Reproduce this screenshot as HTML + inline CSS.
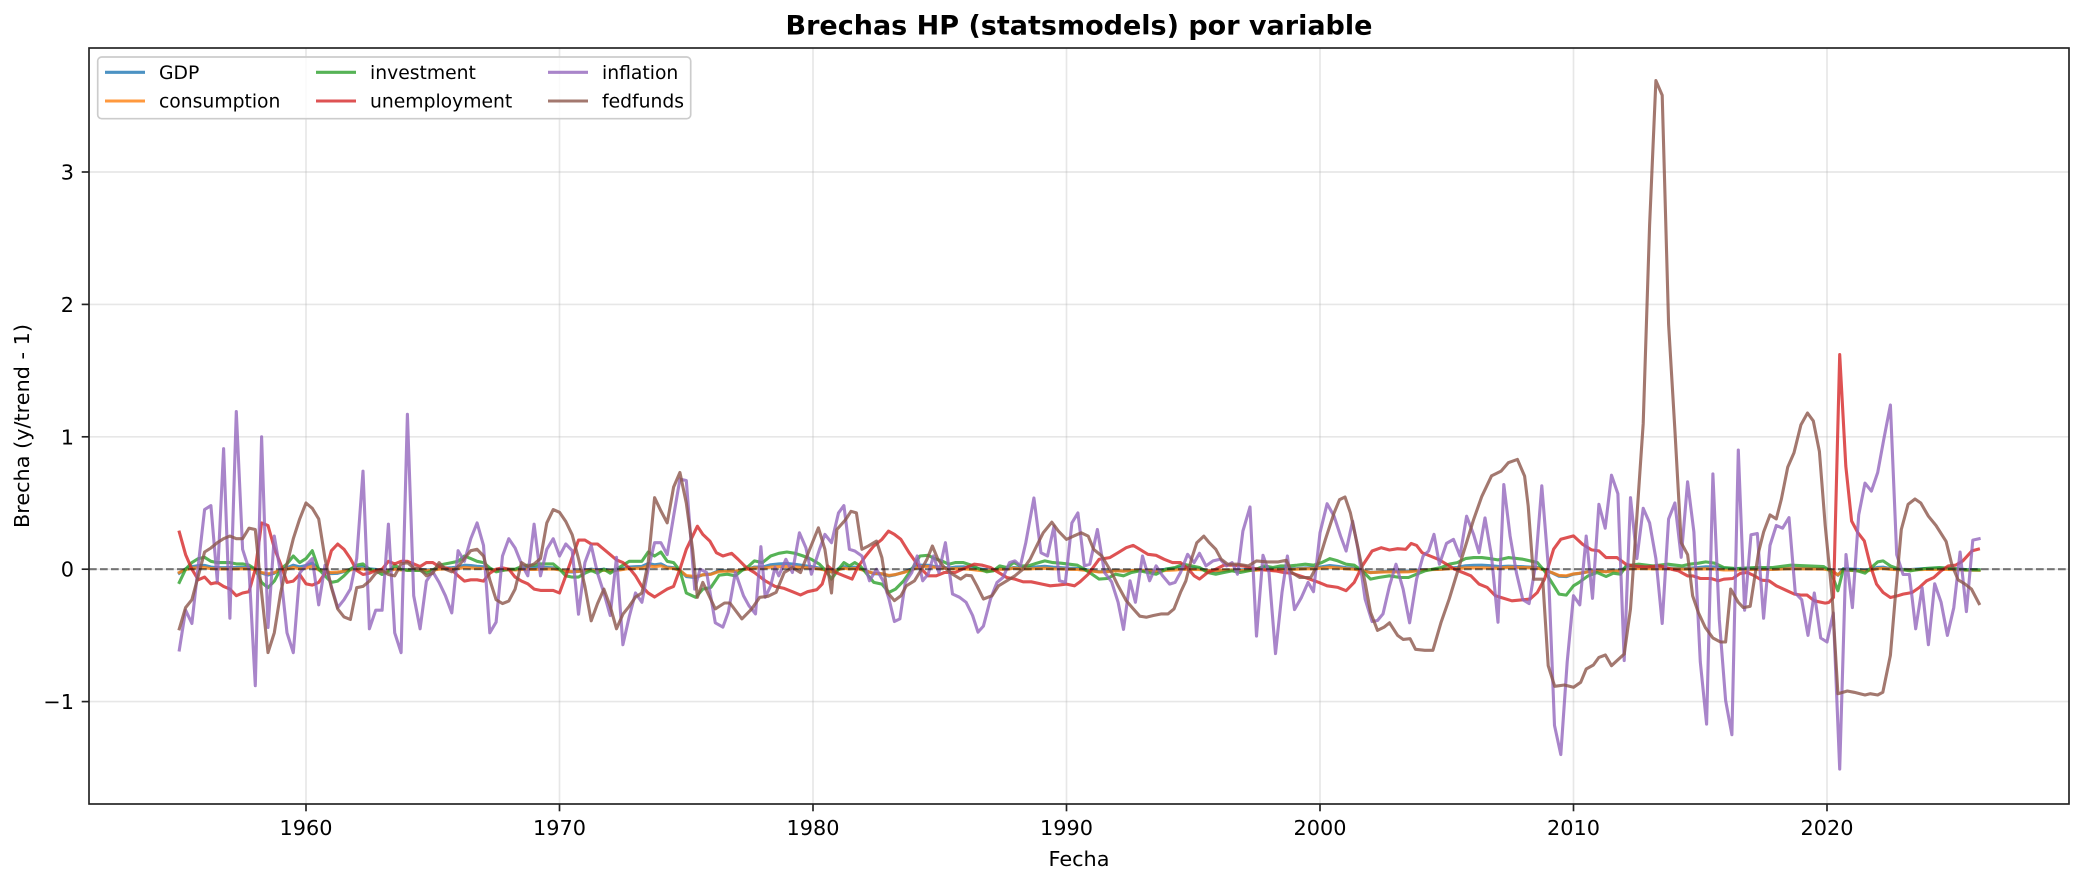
<!DOCTYPE html>
<html><head><meta charset="utf-8">
<style>
html,body{margin:0;padding:0;background:#fff;}
svg{display:block;}
text{font-family:"DejaVu Sans","Liberation Sans",sans-serif;fill:#000;}
</style></head>
<body>
<svg id="c" width="2084" height="882" viewBox="0 0 2084 882" xmlns="http://www.w3.org/2000/svg">
<defs><clipPath id="clip"><rect x="89" y="48" width="1980" height="756"/></clipPath></defs>
<rect x="0" y="0" width="2084" height="882" fill="#fff"/>
<g id="grid" stroke="#b0b0b0" stroke-opacity="0.3" stroke-width="1.67"></g>
<g id="series" clip-path="url(#clip)" fill="none" stroke-width="3.1" stroke-linejoin="round" stroke-linecap="square" stroke-opacity="0.8"></g>
<line x1="89" y1="569.2" x2="2069" y2="569.2" stroke="#000" stroke-opacity="0.5" stroke-width="2.08" stroke-dasharray="7.7 3.3"/>
<rect x="89" y="48" width="1980" height="756" fill="none" stroke="#222" stroke-width="1.67"/>
<g id="ticks" stroke="#222" stroke-width="1.67"></g>
<g id="ticklabels" font-size="20.8"></g>
<text x="1079" y="34.5" text-anchor="middle" font-size="27" font-weight="bold">Brechas HP (statsmodels) por variable</text>
<text x="1079" y="866" text-anchor="middle" font-size="20.8">Fecha</text>
<text transform="translate(29,426) rotate(-90)" text-anchor="middle" font-size="20.8">Brecha (y/trend - 1)</text>
<g id="legend">
<rect x="97.7" y="57" width="593" height="61.7" rx="4" ry="4" fill="#fff" fill-opacity="0.8" stroke="#cccccc" stroke-width="1.7"/>
<g stroke-width="3.1" stroke-opacity="0.8">
<line x1="105" y1="72.3" x2="145" y2="72.3" stroke="#1f77b4"/>
<line x1="105" y1="101" x2="145" y2="101" stroke="#ff7f0e"/>
<line x1="316" y1="72.3" x2="356" y2="72.3" stroke="#2ca02c"/>
<line x1="316" y1="101" x2="356" y2="101" stroke="#d62728"/>
<line x1="548" y1="72.3" x2="588" y2="72.3" stroke="#9467bd"/>
<line x1="548" y1="101" x2="588" y2="101" stroke="#8c564b"/>
</g>
<g font-size="18.75">
<text x="159" y="78.8">GDP</text>
<text x="159" y="107.5">consumption</text>
<text x="370" y="78.8">investment</text>
<text x="370" y="107.5">unemployment</text>
<text x="602" y="78.8">inflation</text>
<text x="602" y="107.5">fedfunds</text>
</g>
</g>
</svg>
<script>
(function(){
var NS="http://www.w3.org/2000/svg";
function X(y){return 306+(y-1960)*25.35;}
function Y(v){return 569.2-v*132.4;}
function z10(p){return [2010+(p[0]-200)/70,(570-p[1])/398];}
function z11(p){return [1960+(p[0]-430)/69.5,(570-p[1])/398];}
function z12(p){return [1980+(p[0]-228)/46.7,(510-p[1])/400];}
function q(arr,start){return arr.map(function(v,i){return [start+i*0.25,v];});}
function el(tag,attrs,parent,txt){var e=document.createElementNS(NS,tag);for(var k in attrs)e.setAttribute(k,attrs[k]);if(txt!==undefined)e.textContent=txt;parent.appendChild(e);return e;}

// grid & ticks
var grid=document.getElementById('grid'),ticks=document.getElementById('ticks'),tl=document.getElementById('ticklabels');
for(var yr=1960;yr<=2020;yr+=10){var x=X(yr);
 el('line',{x1:x,y1:48,x2:x,y2:804},grid);
 el('line',{x1:x,y1:804,x2:x,y2:811.3},ticks);
 el('text',{x:x,y:835,'text-anchor':'middle'},tl,String(yr));}
for(var v=-1;v<=3;v++){var y=Y(v);
 el('line',{x1:89,y1:y,x2:2069,y2:y},grid);
 el('line',{x1:81.7,y1:y,x2:89,y2:y},ticks);
 el('text',{x:74,y:y+7.5,'text-anchor':'end'},tl,(v<0?'\u2212':'')+Math.abs(v));}

// ---------- data ----------
var infl55=[-0.61,-0.31,-0.41,0.03,0.45,0.48,-0.09,0.91,-0.37,1.19,0.15,0.0,-0.88,1.0,-0.44,0.25,-0.03,-0.48,-0.63,-0.03,0.03,0.08,-0.27,0.03,-0.13,-0.29,-0.23,-0.15,0.08,0.74,-0.45,-0.31,-0.31,0.34,-0.48,-0.63,1.17,-0.2,-0.45,-0.09,-0.02,-0.1,-0.2,-0.33,0.14,0.06,0.23,0.35,0.18,-0.48,-0.40,0.1,0.23,0.16,0.04,-0.05,0.34,-0.05,0.15,0.23,0.1,0.19,0.14,-0.34,0.05,0.18,-0.03,-0.18,-0.35,0.09,-0.57,-0.36,-0.18,-0.25,0.0,0.2,0.2,0.11,0.4,0.68,0.67];
var fed55=[-0.45,-0.29,-0.23,-0.05,0.13,0.16,0.2,0.23,0.25,0.23,0.23,0.31,0.30,-0.18,-0.63,-0.48,-0.18,0.04,0.23,0.38,0.50,0.46,0.38,0.08,-0.14,-0.3,-0.36,-0.38,-0.14,-0.13,-0.09,-0.03,-0.01,-0.04,-0.05,0.04,0.05,0.01,0.0,-0.05,-0.03,0.05,0.0,-0.02,0.02,0.08,0.14,0.15,0.1,-0.08,-0.23,-0.26,-0.24,-0.15,0.05,0.02,0.04,0.08,0.35,0.45,0.43,0.36,0.26,0.08,-0.13,-0.39,-0.26,-0.15,-0.28,-0.45,-0.34,-0.28,-0.21,-0.18,0.05,0.54,0.44,0.35,0.62,0.73,0.5];
var unemp55=[0.28,0.11,0.0,-0.08,-0.06,-0.11,-0.1,-0.13,-0.15,-0.2,-0.18,-0.17,0.0,0.35,0.33,0.16,0.04,-0.1,-0.09,-0.04,-0.11,-0.12,-0.1,-0.03,0.14,0.19,0.15,0.08,-0.01,-0.04,-0.03,-0.01,0.0,0.06,0.04,0.06,0.06,0.04,0.02,0.05,0.05,0.02,0.01,-0.005,-0.05,-0.09,-0.08,-0.08,-0.09,-0.03,0.0,0.01,0.0,-0.06,-0.09,-0.11,-0.15,-0.16,-0.16,-0.16,-0.18,-0.05,0.09,0.22,0.22,0.19,0.19,0.15,0.11,0.07,0.05,0.01,-0.05,-0.13,-0.18,-0.21,-0.18,-0.15,-0.13,0.0,0.15];
var inv55=[-0.1,0.0,0.05,0.08,0.09,0.06,0.05,0.05,0.05,0.04,0.04,0.03,0.0,-0.1,-0.14,-0.09,0.0,0.04,0.1,0.05,0.08,0.14,0.0,-0.05,-0.1,-0.09,-0.05,0.0,0.03,0.04,0.0,-0.01,-0.04,-0.02,0.03,0.0,-0.01,-0.01,-0.01,-0.03,-0.01,0.03,0.04,0.05,0.06,0.1,0.08,0.06,0.05,0.01,-0.02,-0.01,0.0,0.0,0.02,0.03,0.03,0.04,0.04,0.04,0.0,-0.05,-0.06,-0.06,-0.03,-0.01,-0.03,0.0,-0.03,0.0,0.03,0.06,0.06,0.06,0.13,0.1,0.13,0.06,0.05,-0.01,-0.18];

var inflZ12=[[10,570],[20,510],[32,520],[48,672],[62,685],[72,640],[85,520],[100,590],[110,620],[122,645],[132,442],[140,595],[150,560],[158,505],[165,530],[178,480],[190,520],[203,400],[215,445],[225,525],[240,450],[250,405],[262,430],[275,340],[285,318],[295,450],[305,455],[318,470],[332,545],[345,510],[358,548],[368,600],[378,668],[388,660],[398,550],[410,520],[420,470],[430,545],[440,525],[450,470],[460,520],[472,430],[485,585],[498,595],[510,610],[522,650],[532,700],[542,682],[555,600],[567,550],[578,535],[590,490],[600,485],[610,500],[620,430],[635,295],[648,460],[660,470],[672,380],[682,545],[693,550],[705,370],[716,340],[728,500],[738,495],[752,390],[765,520],[778,548],[790,610],[800,692],[812,545],[822,610],[835,470],[848,545],[860,500],[872,530],[885,555],[895,550],[905,520],[918,465],[930,490],[940,462],[952,500],[965,485],[978,480],[990,500],[1000,490],[1010,525],[1020,395],[1033,322],[1045,712],[1057,468],[1068,520],[1080,765],[1092,580],[1102,470],[1115,632],[1128,595],[1140,550],[1150,578],[1162,400],[1175,312],[1188,350],[1200,410],[1210,455],[1222,365],[1232,450],[1245,600],[1258,668],[1268,665],[1278,645],[1290,560],[1302,495],[1315,570],[1327,672],[1340,540],[1352,470],[1362,455],[1372,405],[1382,495],[1395,432],[1408,420],[1420,470],[1432,350],[1445,405],[1455,460],[1466,355],[1478,470],[1490,670]];
var inflLate=[0.64,0.25,-0.03,-0.23,-0.26,0.03,0.63,0.03,-1.18,-1.40,-0.70,-0.2,-0.27,0.25,-0.22,0.49,0.31,0.71,0.57,-0.69,0.54,0.08,0.46,0.35,0.08,-0.41,0.38,0.5,0.09,0.66,0.28,-0.70,-1.17,0.72,-0.38,-0.99,-1.25,0.90,-0.31,0.26,0.27,-0.37,0.18,0.33,0.31,0.39,-0.18,-0.23,-0.50,-0.18,-0.52,-0.55,-0.33,-1.51,0.11,-0.29,0.41,0.65,0.59,0.73,0.99,1.24,0.11,-0.04,-0.04,-0.45,-0.14,-0.57,-0.11,-0.25,-0.50,-0.29,0.13,-0.32,0.22,0.23];

var unempZ12=[[15,380],[25,405],[38,425],[50,460],[62,470],[78,462],[90,480],[105,505],[120,520],[140,545],[158,562],[175,568],[190,578],[205,588],[218,578],[235,572],[245,555],[255,500],[270,520],[285,530],[300,540],[310,505],[325,470],[340,440],[355,420],[367,395],[378,405],[390,420],[405,460],[418,490],[428,510],[440,530],[455,530],[470,520],[490,520],[510,505],[525,495],[540,498],[555,505],[570,520],[585,535],[600,540],[615,548],[630,548],[650,555],[665,560],[680,558],[695,555],[710,560],[720,548],[735,525],[755,480],[775,475],[790,460],[805,445],[818,438],[830,450],[845,465],[860,468],[875,480],[890,490],[905,490],[920,510],[930,530],[940,540],[955,520],[970,510],[985,498],[1000,498],[1020,500],[1040,508],[1060,512],[1080,515],[1095,520],[1110,522],[1125,530],[1140,538],[1160,550],[1175,560],[1195,565],[1210,575],[1225,550],[1240,500],[1258,455],[1275,445],[1290,452],[1305,448],[1320,450],[1330,432],[1340,438],[1350,460],[1365,470],[1380,480],[1395,495],[1410,510],[1425,520],[1440,530],[1455,555],[1470,565],[1485,590]];
var unempZ10=[[0,655],[30,665],[80,660],[100,640],[120,600],[145,510],[165,480],[200,470],[225,495],[250,512],[270,515],[290,535],[320,535],[345,555],[365,560],[400,563],[440,560],[470,570],[490,575],[515,590],[530,590],[550,598],[580,598],[600,605],[615,600],[640,598],[660,583],[680,580],[700,590],[720,603],[740,605],[760,620],[790,635],[810,645],[830,648],[845,648],[865,665],[895,672],[905,670],[918,655],[935,-75],[952,260],[968,425],[985,460],[1003,485],[1020,560],[1037,615],[1055,640],[1075,655],[1095,650],[1110,645],[1135,640],[1155,625],[1175,605],[1195,595],[1215,575],[1235,560],[1255,558],[1275,545],[1300,515],[1318,510]];

var fedZ12=[[15,595],[25,550],[48,630],[65,612],[75,612],[97,660],[115,630],[130,595],[145,592],[160,580],[175,520],[190,505],[205,520],[222,450],[238,385],[250,450],[262,582],[272,390],[288,360],[298,335],[308,340],[318,450],[330,440],[345,425],[355,475],[365,580],[378,605],[390,590],[400,560],[415,545],[428,510],[438,480],[448,440],[458,480],[470,505],[485,525],[500,540],[510,528],[520,530],[530,560],[542,600],[558,590],[570,560],[585,545],[600,530],[615,510],[628,480],[640,440],[652,400],[668,368],[680,395],[695,420],[708,410],[722,400],[735,410],[745,450],[760,470],[778,520],[790,560],[805,605],[818,630],[830,652],[842,655],[855,650],[870,645],[882,645],[893,630],[905,580],[915,545],[925,480],[935,430],[948,410],[958,430],[970,450],[980,480],[992,495],[1010,495],[1030,500],[1045,485],[1065,488],[1085,488],[1100,483],[1110,520],[1125,535],[1145,535],[1158,495],[1172,420],[1188,340],[1198,300],[1208,292],[1218,340],[1230,430],[1245,550],[1255,640],[1268,695],[1280,685],[1290,672],[1305,710],[1315,722],[1328,720],[1338,752],[1355,755],[1370,755],[1385,670],[1400,600],[1415,520],[1430,440],[1445,360],[1460,290],[1478,228]];
var fedZ10=[[0,275],[20,250],[45,240],[65,290],[75,380],[90,600],[100,600],[115,600],[130,860],[148,922],[175,918],[200,925],[220,910],[235,870],[255,858],[270,835],[288,828],[305,860],[340,825]];
var fedLate=[[2012.25,-0.3],[2012.5,0.4],[2012.75,1.1],[2013.0,2.6],[2013.25,3.69],[2013.5,3.58],[2013.75,1.85],[2014.0,1.05],[2014.25,0.2],[2014.5,0.11],[2014.7,-0.2],[2014.93,-0.33],[2015.2,-0.44],[2015.5,-0.52],[2015.8,-0.55],[2016.0,-0.55],[2016.2,-0.15],[2016.5,-0.25],[2016.7,-0.29],[2016.97,-0.28],[2017.3,0.13],[2017.5,0.28],[2017.75,0.41],[2018.0,0.38],[2018.2,0.53],[2018.45,0.77],[2018.7,0.88],[2018.97,1.09],[2019.23,1.18],[2019.46,1.12],[2019.7,0.89],[2019.93,0.33],[2020.2,-0.2],[2020.43,-0.94],[2020.8,-0.92],[2021.07,-0.93],[2021.5,-0.95],[2021.7,-0.94],[2022.0,-0.95],[2022.2,-0.93],[2022.5,-0.65],[2022.7,-0.2],[2022.93,0.3],[2023.2,0.49],[2023.47,0.53],[2023.7,0.5],[2024.0,0.4],[2024.3,0.33],[2024.7,0.21],[2024.93,0.03],[2025.17,-0.08],[2025.43,-0.11],[2025.7,-0.15],[2026.0,-0.26]];

var invZ12=[[12,595],[25,570],[40,565],[55,528],[70,525],[85,530],[100,510],[110,500],[120,485],[135,490],[150,470],[165,462],[180,458],[195,462],[210,470],[225,480],[240,495],[252,515],[262,540],[275,510],[285,490],[295,500],[305,490],[315,500],[325,520],[340,550],[355,555],[368,580],[380,570],[395,545],[410,510],[425,470],[440,468],[452,478],[465,485],[478,495],[490,490],[505,490],[520,498],[535,510],[548,518],[560,515],[572,500],[585,505],[598,490],[610,500],[625,500],[640,492],[655,485],[670,490],[685,492],[700,495],[715,498],[728,510],[742,525],[755,540],[770,538],[785,525],[800,530],[815,520],[830,515],[845,520],[860,525],[878,510],[895,505],[910,495],[925,500],[940,505],[955,520],[970,525],[985,520],[1000,515],[1015,520],[1030,515],[1045,510],[1060,500],[1075,505],[1090,500],[1105,500],[1120,498],[1135,495],[1150,498],[1165,490],[1180,478],[1195,485],[1210,495],[1225,498],[1240,515],[1255,540],[1270,535],[1290,530],[1310,535],[1325,535],[1340,525],[1355,515],[1370,510],[1385,505],[1400,495],[1415,490],[1430,478],[1445,475],[1460,475],[1475,478],[1490,482]];
var invZ10=[[0,540],[20,535],[60,540],[100,550],[120,575],[140,610],[160,645],[180,648],[200,620],[215,610],[240,590],[265,580],[290,592],[310,582],[330,585],[345,560],[380,555],[420,560],[460,555],[500,560],[520,555],[545,552],[565,548],[590,552],[615,565],[650,568],[700,565],[750,565],[800,558],[850,560],[890,562],[910,575],[930,635],[945,570],[985,575],[1005,582],[1040,548],[1055,545],[1075,560],[1100,570],[1130,575],[1170,568],[1210,565],[1250,568],[1280,572],[1320,572]];

var infl=q(infl55,1955).concat(inflZ12.map(z12)).concat(q(inflLate,2007.25));
var fed=q(fed55,1955).concat([[1975.25,0.15]]).concat(fedZ12.map(z12)).concat(fedZ10.map(z10)).concat(fedLate);
var unemp=q(unemp55,1955).concat(unempZ12.map(z12)).concat(unempZ10.map(z10));
var inv=q(inv55,1955).concat(invZ12.map(z12)).concat(invZ10.map(z10));
var gdp=inv.map(function(p,i){return [p[0],0.3*p[1]+0.004*Math.sin(i*0.7)];});
var cons=inv.map(function(p,i){return [p[0],0.22*p[1]-0.006+0.003*Math.cos(i*0.5)];});

var g=document.getElementById('series');
function draw(pts,color){
 var d='';
 for(var i=0;i<pts.length;i++){d+=(i?'L':'M')+X(pts[i][0]).toFixed(1)+','+Y(pts[i][1]).toFixed(1);}
 el('path',{d:d,stroke:color},g);
}
draw(gdp,'#1f77b4');
draw(cons,'#ff7f0e');
draw(inv,'#2ca02c');
draw(unemp,'#d62728');
draw(infl,'#9467bd');
draw(fed,'#8c564b');
})();
</script>
</body></html>
